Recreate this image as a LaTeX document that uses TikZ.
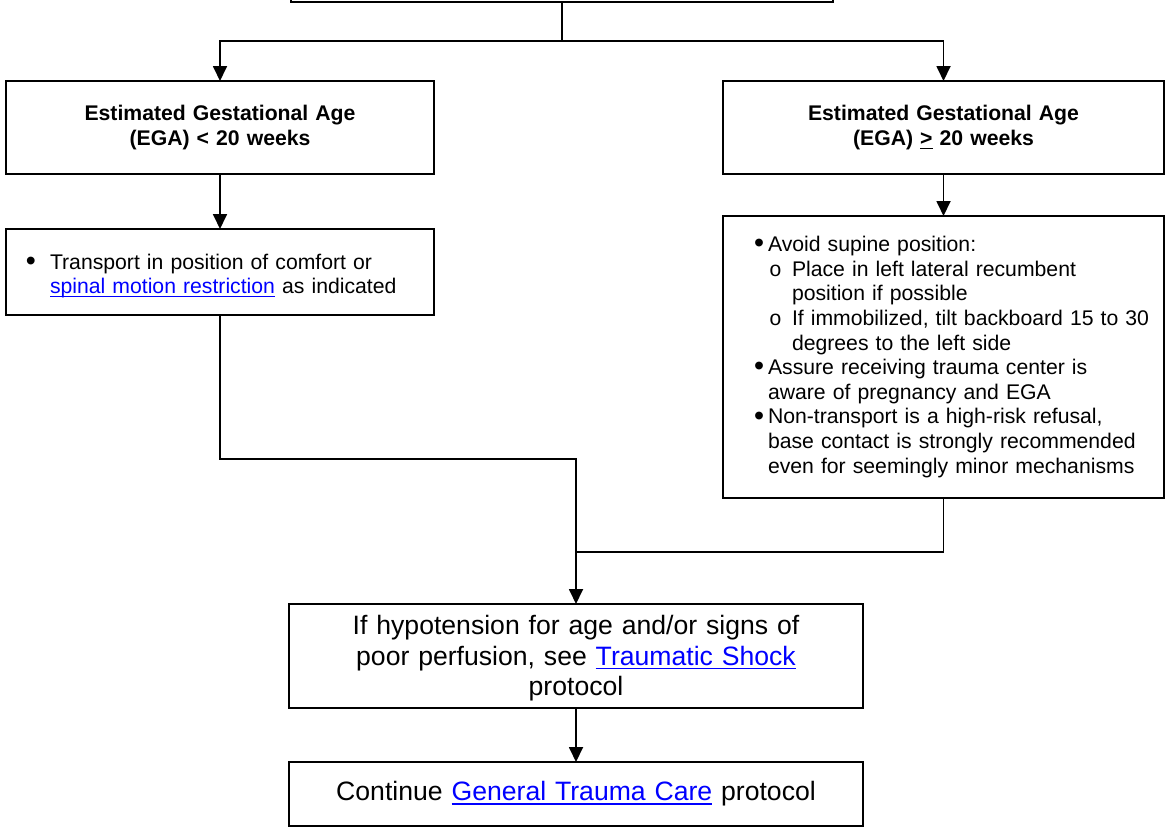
\documentclass[tikz,border=0pt]{standalone}
\usepackage{fontspec}
\setmainfont{Liberation Sans}
\newfontfamily\courfont{Liberation Mono}
\usepackage{graphicx}
\usepackage{tikz}
\usetikzlibrary{positioning}
\usetikzlibrary{arrows.meta}
\definecolor{linkblue}{RGB}{0,0,255}
\newsavebox{\ulsave}
\newcommand{\ulbox}[1]{\sbox{\ulsave}{#1}\rlap{\rule[-3.7pt]{\wd\ulsave}{1.3pt}}\usebox{\ulsave}}
\newcommand{\lnk}[1]{\textcolor{linkblue}{\ulbox{#1}}}
\newcommand{\bigdot}{\raisebox{-1.2pt}{\scalebox{1.35}{\textbullet}}}
\newcommand{\dotitem}[2]{\makebox[#2][l]{\hspace{#1}\bigdot}}
\newcommand{\oitem}[2]{\makebox[#2][l]{\hspace{#1}{\courfont o}}}

\begin{document}
\begin{tikzpicture}[x=1pt, y=1pt, line width=1.8pt,
  >={Triangle[length=15pt,width=14pt]},
  box/.style={draw, inner sep=0pt, outer sep=0pt},
  head/.style={box, align=center, font=\fontsize{21.2}{25}\selectfont\bfseries},
  item/.style={box, align=left, font=\fontsize{21.2}{24.6}\selectfont},
  big/.style={box, align=center, font=\fontsize{26.6}{30.5}\selectfont}]
\useasboundingbox (0,0) rectangle (1166,-827);
\clip (0,0) rectangle (1166,-827);

\node[name=assess, box, minimum width=542pt, minimum height=80pt] at (562,38) {};
\node[name=egaL, head, text width=428pt, minimum height=93pt] at (220,-127.5)
  {Estimated Gestational Age\\(EGA) < 20 weeks};
\node[name=egaR, head, text width=441pt, minimum height=93pt, right=289pt of egaL]
  {Estimated Gestational Age\\(EGA) \ulbox{>} 20 weeks};
\node[name=careL, item, text width=428pt, minimum height=86pt, below=55pt of egaL]
  {\rule{0pt}{23pt}\dotitem{20pt}{44pt}Transport in position of comfort or\\
   \hspace*{44pt}\lnk{spinal motion restriction} as indicated};
\node[name=careR, item, text width=441pt, minimum height=282pt, below=42pt of egaR]
  {\dotitem{31pt}{45pt}Avoid supine position:\\
   \oitem{46pt}{69pt}Place in left lateral recumbent\\
   \hspace*{69pt}position if possible\\
   \oitem{46pt}{69pt}If immobilized, tilt backboard 15 to 30\\
   \hspace*{69pt}degrees to the left side\\
   \dotitem{31pt}{45pt}Assure receiving trauma center is\\
   \hspace*{45pt}aware of pregnancy and EGA\\
   \dotitem{31pt}{45pt}Non-transport is a high-risk refusal,\\
   \hspace*{45pt}base contact is strongly recommended\\
   \hspace*{45pt}even for seemingly minor mechanisms};
\node[name=shock, big, text width=574pt, minimum height=104pt, below=106pt of careR, xshift=-367.5pt]
  {\rule{0pt}{24pt}If hypotension for age and/or signs of\\
   poor perfusion, see \lnk{Traumatic Shock}\\
   protocol};
\node[name=cont, big, text width=574pt, minimum height=64pt, below=54pt of shock]
  {Continue \lnk{General Trauma Care} protocol};

\coordinate[below=39pt of assess] (fork);
\coordinate[below=144pt of careL] (bendL);
\coordinate[above=52pt of shock] (merge);

\draw (assess.south) -- (fork);
\draw[->] (fork) -| (egaL.north);
\draw[->] (fork) -| (egaR.north);
\draw[->] (egaL.south) -- (careL.north);
\draw[->] (egaR.south) -- (careR.north);
\draw[->] (careL.south) -- (bendL) -| (shock.north);
\draw (careR.south) |- (merge);
\draw[->] (shock.south) -- (cont.north);
\end{tikzpicture}
\end{document}
